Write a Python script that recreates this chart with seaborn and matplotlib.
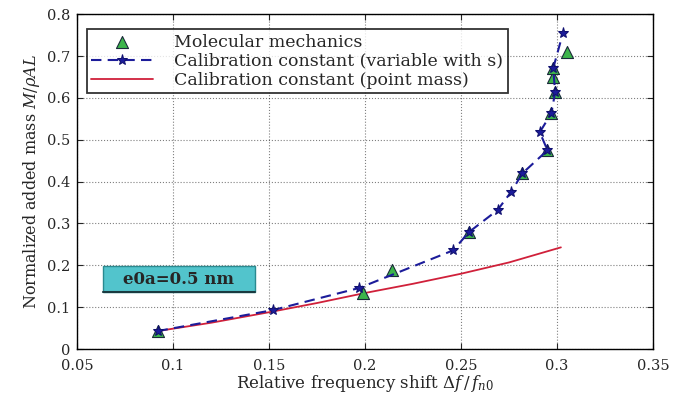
import matplotlib
matplotlib.use("Agg")
import matplotlib.pyplot as plt
from matplotlib.patches import Rectangle
import seaborn as sns
import pandas as pd

# ---- data ----
mm_x = [0.092, 0.199, 0.214, 0.254, 0.282, 0.295, 0.297, 0.299, 0.298, 0.298, 0.305]
mm_y = [0.043, 0.134, 0.189, 0.279, 0.420, 0.475, 0.563, 0.613, 0.650, 0.672, 0.709]

cal_x = [0.092, 0.152, 0.197, 0.246, 0.254, 0.269, 0.276, 0.282, 0.295, 0.291, 0.297, 0.299, 0.298, 0.303]
cal_y = [0.043, 0.093, 0.146, 0.236, 0.279, 0.332, 0.375, 0.420, 0.475, 0.518, 0.563, 0.613, 0.671, 0.754]

pm_x = [0.092, 0.12, 0.15, 0.175, 0.2, 0.225, 0.25, 0.275, 0.302]
pm_y = [0.043, 0.063, 0.088, 0.110, 0.134, 0.156, 0.180, 0.207, 0.243]

x_ticks = [0.05, 0.1, 0.15, 0.2, 0.25, 0.3, 0.35]
x_tick_labels = ["0.05", "0.1", "0.15", "0.2", "0.25", "0.3", "0.35"]
y_ticks = [0, 0.1, 0.2, 0.3, 0.4, 0.5, 0.6, 0.7, 0.8]
y_tick_labels = ["0", "0.1", "0.2", "0.3", "0.4", "0.5", "0.6", "0.7", "0.8"]

labels = ["Molecular mechanics",
          "Calibration constant (variable with s)",
          "Calibration constant (point mass)"]

sns.set_style("white")
plt.rcParams['font.family'] = ['DejaVu Serif']
plt.rcParams['mathtext.fontset'] = 'dejavuserif'

fig = plt.figure(figsize=(6.74, 3.94), dpi=100)
ax = fig.add_axes([0.114, 0.114, 0.855, 0.85])

df_mm = pd.DataFrame({"x": mm_x, "y": mm_y})
df_cal = pd.DataFrame({"x": cal_x, "y": cal_y})
df_pm = pd.DataFrame({"x": pm_x, "y": pm_y})

sns.lineplot(data=df_pm, x="x", y="y", ax=ax, sort=False, color="#d0203a",
             linewidth=1.3, label=labels[2], zorder=3)
sns.lineplot(data=df_cal, x="x", y="y", ax=ax, sort=False, color="#1c1c9a",
             linewidth=1.5, linestyle=(0, (5, 3)), marker="*", markersize=8,
             markeredgecolor="#101070", label=labels[1], zorder=5)
sns.scatterplot(data=df_mm, x="x", y="y", ax=ax, marker="^", s=75,
                color="#3cb44b", edgecolor="#1a2a3a", linewidth=0.8,
                label=labels[0], zorder=4)

ax.set_xlim(0.05, 0.35)
ax.set_ylim(0, 0.8)
ax.set_xticks(x_ticks)
ax.set_xticklabels(x_tick_labels)
ax.set_yticks(y_ticks)
ax.set_yticklabels(y_tick_labels)
ax.tick_params(direction="in", length=4, labelsize=10.5, top=True, right=True,
               bottom=True, left=True)
ax.tick_params(axis="x", pad=7)
ax.tick_params(axis="y", pad=5)
ax.grid(True, linestyle=":", color="black", linewidth=0.8, alpha=0.5)
for s in ax.spines.values():
    s.set_color("black")
    s.set_linewidth(1.0)

ax.set_xlabel(r"Relative frequency shift $\Delta f\,/\,f_{n0}$", fontsize=12, labelpad=0)
ax.set_ylabel(r"Normalized added mass $M/\rho AL$", fontsize=11.5, labelpad=3)

handles, labs = ax.get_legend_handles_labels()
order = [labs.index(l) for l in labels]
leg = ax.legend([handles[i] for i in order], [labs[i] for i in order],
                loc="upper left", bbox_to_anchor=(0.017, 0.955), borderaxespad=0,
                fontsize=12.5, frameon=True, fancybox=False, edgecolor="black",
                borderpad=0.25, labelspacing=0.12, handlelength=3.6,
                handletextpad=1.2)
leg.get_frame().set_linewidth(1.3)

ax.add_patch(Rectangle((0.0635, 0.136), 0.0795, 0.062, facecolor="#52c4cc",
                       edgecolor="#2a8a90", linewidth=1.0, zorder=6))
ax.plot([0.0635, 0.143], [0.136, 0.136], color="#1a3a40", linewidth=1.5, zorder=6)
ax.text(0.103, 0.167, "e0a=0.5 nm", fontsize=12, fontweight="bold",
        ha="center", va="center", zorder=7)

fig.savefig("out.png", dpi=100)
